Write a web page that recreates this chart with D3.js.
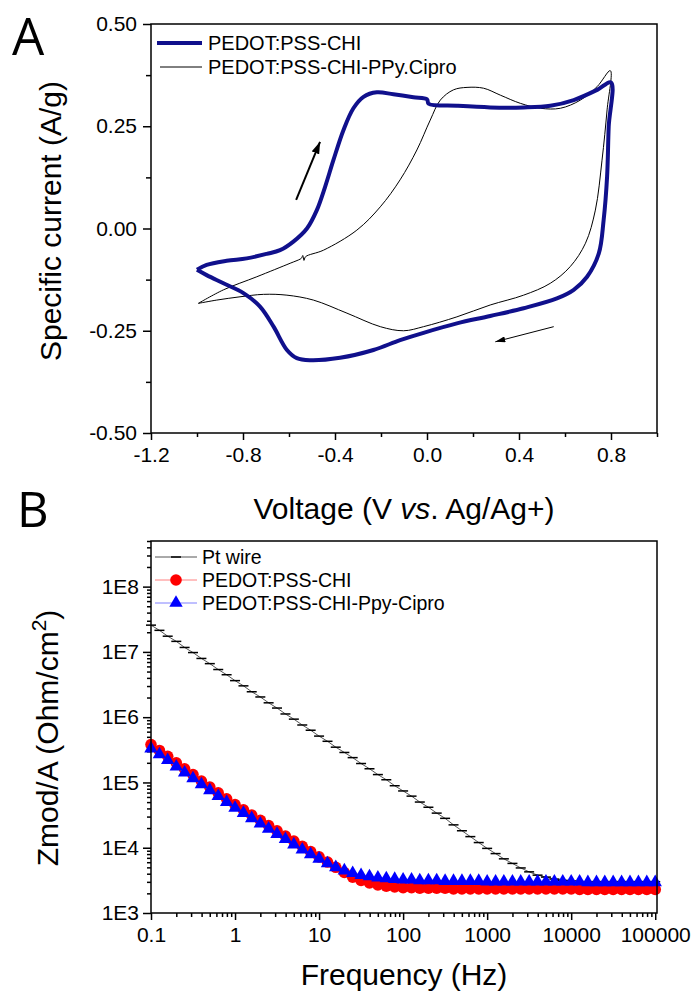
<!DOCTYPE html>
<html>
<head>
<meta charset="utf-8">
<script src="https://cdn.jsdelivr.net/npm/d3@7"></script>
<style>
body { margin: 0; background: #fff; }
text { font-family: "Liberation Sans", Arial, sans-serif; fill: #000; }
</style>
</head>
<body>
<div id="here"></div>
<script>
// DATA
// Panel A: cyclic voltammograms (V vs Ag/Ag+, A/g)
const chiVolt = [-1.000, -0.958, -0.871, -0.784, -0.697, -0.639, -0.581, -0.522, -0.479, -0.443, -0.407, -0.363,
  -0.320, -0.276, -0.218, -0.146, -0.059, 0.000, 0.007, 0.130, 0.275, 0.420, 0.536, 0.638, 0.740, 0.800,
  0.790, 0.783, 0.768, 0.747, 0.696, 0.638, 0.565, 0.420, 0.275, 0.130, -0.015, -0.117, -0.233, -0.378,
  -0.508, -0.566, -0.609, -0.667, -0.726, -0.798, -0.885, -0.958, -1.000];
const chiCurrent = [-0.101, -0.089, -0.079, -0.073, -0.062, -0.053, -0.032, 0.000, 0.045, 0.102, 0.167, 0.241,
  0.294, 0.322, 0.333, 0.328, 0.321, 0.316, 0.305, 0.300, 0.296, 0.296, 0.300, 0.314, 0.339, 0.357,
  0.249, 0.127, 0.021, -0.061, -0.118, -0.150, -0.171, -0.195, -0.214, -0.232, -0.255, -0.273, -0.297, -0.316,
  -0.322, -0.317, -0.297, -0.240, -0.191, -0.158, -0.134, -0.114, -0.101];

const ciproVolt = [-0.994, -0.885, -0.740, -0.595, -0.552, -0.545, -0.540, -0.535, -0.528, -0.450, -0.305,
  -0.203, -0.117, -0.044, 0.014, 0.058, 0.115, 0.174, 0.246, 0.319, 0.406, 0.493, 0.580, 0.667, 0.740, 0.797,
  0.783, 0.761, 0.732, 0.689, 0.623, 0.536, 0.420, 0.275, 0.130, -0.015, -0.102, -0.203, -0.348, -0.494,
  -0.609, -0.711, -0.813, -0.914, -0.994];
const ciproCurrent = [-0.183, -0.150, -0.118, -0.085, -0.075, -0.072, -0.066, -0.078, -0.069, -0.053, -0.004,
  0.053, 0.119, 0.192, 0.265, 0.314, 0.339, 0.345, 0.343, 0.326, 0.306, 0.294, 0.294, 0.314, 0.347, 0.386,
  0.290, 0.167, 0.045, -0.036, -0.093, -0.134, -0.163, -0.187, -0.216, -0.240, -0.250, -0.240, -0.207, -0.175,
  -0.163, -0.161, -0.167, -0.175, -0.183];

// arrows showing scan direction [V, A/g]
const arrowUp = [[-0.569, 0.070], [-0.465, 0.212]];
const arrowDown = [[0.551, -0.240], [0.297, -0.277]];

const voltTicks = [-1.2, -0.8, -0.4, 0.0, 0.4, 0.8];
const voltMinor = [-1.0, -0.6, -0.2, 0.2, 0.6, 1.0];
const currentTicks = [-0.50, -0.25, 0.00, 0.25, 0.50];
const currentMinor = [-0.375, -0.125, 0.125, 0.375];

// Panel B: impedance modulus (Ohm/cm2) vs frequency (Hz)
const freqHz = [0.1, 0.126, 0.158, 0.2, 0.251, 0.316, 0.398, 0.501, 0.631, 0.794,
  1, 1.26, 1.58, 2, 2.51, 3.16, 3.98, 5.01, 6.31, 7.94,
  10, 12.6, 15.8, 20, 25.1, 31.6, 39.8, 50.1, 63.1, 79.4,
  100, 126, 158, 200, 251, 316, 398, 501, 631, 794,
  1000, 1260, 1580, 2000, 2510, 3160, 3980, 5010, 6310, 7940,
  10000, 12600, 15800, 20000, 25100, 31600, 39800, 50100, 63100, 79400,
  100000];
const zPtWire = [2.57e7, 2.14e7, 1.74e7, 1.45e7, 1.17e7, 9.77e6, 7.94e6, 6.61e6, 5.37e6, 4.47e6,
  3.63e6, 3.02e6, 2.45e6, 2.04e6, 1.66e6, 1.38e6, 1.12e6, 9.33e5, 7.59e5, 6.31e5,
  5.13e5, 4.27e5, 3.47e5, 2.88e5, 2.40e5, 1.95e5, 1.62e5, 1.32e5, 1.10e5, 8.91e4,
  7.41e4, 6.17e4, 5.01e4, 4.17e4, 3.39e4, 2.82e4, 2.24e4, 1.82e4, 1.48e4, 1.20e4,
  9.77e3, 8.13e3, 6.76e3, 5.75e3, 4.90e3, 4.27e3, 3.80e3, 3.55e3, 3.31e3, 3.16e3,
  3.09e3, 3.02e3, 3.02e3, 3.02e3, 3.02e3, 3.02e3, 3.02e3, 3.02e3, 3.02e3, 3.02e3,
  3.02e3];
const zPedotChi = [3.80e5, 3.09e5, 2.51e5, 2.00e5, 1.62e5, 1.32e5, 1.05e5, 8.51e4, 6.92e4, 5.62e4,
  4.57e4, 3.80e4, 3.16e4, 2.63e4, 2.19e4, 1.82e4, 1.51e4, 1.26e4, 1.05e4, 8.71e3,
  7.24e3, 6.03e3, 5.01e3, 4.17e3, 3.55e3, 3.16e3, 2.88e3, 2.69e3, 2.57e3, 2.51e3,
  2.45e3, 2.45e3, 2.40e3, 2.40e3, 2.40e3, 2.40e3, 2.34e3, 2.34e3, 2.34e3, 2.34e3,
  2.34e3, 2.34e3, 2.34e3, 2.34e3, 2.34e3, 2.34e3, 2.34e3, 2.34e3, 2.34e3, 2.34e3,
  2.34e3, 2.29e3, 2.29e3, 2.29e3, 2.29e3, 2.29e3, 2.29e3, 2.29e3, 2.29e3, 2.29e3,
  2.29e3];
const zPedotCipro = [3.31e5, 2.69e5, 2.19e5, 1.74e5, 1.41e5, 1.15e5, 9.33e4, 7.59e4, 6.17e4, 5.01e4,
  4.07e4, 3.39e4, 2.82e4, 2.34e4, 1.95e4, 1.62e4, 1.35e4, 1.12e4, 9.33e3, 7.94e3,
  6.76e3, 5.75e3, 5.01e3, 4.47e3, 4.07e3, 3.80e3, 3.63e3, 3.47e3, 3.39e3, 3.31e3,
  3.24e3, 3.24e3, 3.16e3, 3.16e3, 3.16e3, 3.09e3, 3.09e3, 3.09e3, 3.09e3, 3.09e3,
  3.02e3, 3.02e3, 3.02e3, 3.02e3, 3.02e3, 3.02e3, 3.02e3, 3.02e3, 3.02e3, 3.02e3,
  3.02e3, 3.02e3, 2.95e3, 2.95e3, 2.95e3, 2.95e3, 2.95e3, 2.95e3, 2.95e3, 2.95e3,
  2.95e3];

const freqTicks = [0.1, 1, 10, 100, 1000, 10000, 100000];
const zTicks = [1e3, 1e4, 1e5, 1e6, 1e7, 1e8];

// colours
const navy = "#10108c";
const red = "#ff0000";
const blue = "#0000ff";

// Create SVG canvas
const width = 693, height = 994;
const svg = d3.select("#here").append("svg")
  .attr("width", width)
  .attr("height", height)
  .style("display", "block");
svg.append("rect").attr("width", width).attr("height", height).attr("fill", "#fff");

function styleAxis(g, size) {
  g.select(".domain").remove();
  g.attr("font-family", null).attr("font-size", null);
  g.selectAll("line").attr("stroke", "#000").attr("stroke-width", 1.5);
  g.selectAll("text").style("font-size", size + "px");
}

// ---------------- PANEL A ----------------
const xA = d3.scaleLinear().domain([-1.2, 1.0]).range([151, 657]);
const yA = d3.scaleLinear().domain([-0.5, 0.5]).range([433, 24]);

svg.append("g").attr("transform", `translate(0,${yA(-0.5)})`)
  .call(d3.axisBottom(xA).tickValues(voltMinor).tickSize(4).tickFormat(""))
  .call(g => styleAxis(g, 21));
svg.append("g").attr("transform", `translate(0,${yA(-0.5)})`)
  .call(d3.axisBottom(xA).tickValues(voltTicks).tickSize(7).tickPadding(7).tickFormat(d => d.toFixed(1)))
  .call(g => styleAxis(g, 21));
svg.append("g").attr("transform", `translate(${xA(-1.2)},0)`)
  .call(d3.axisLeft(yA).tickValues(currentMinor).tickSize(5).tickFormat(""))
  .call(g => styleAxis(g, 21));
svg.append("g").attr("transform", `translate(${xA(-1.2)},0)`)
  .call(d3.axisLeft(yA).tickValues(currentTicks).tickSize(8).tickPadding(6).tickFormat(d => d.toFixed(2)))
  .call(g => styleAxis(g, 21));

const lineA = d3.line()
  .x(d => xA(d[0]))
  .y(d => yA(d[1]))
  .curve(d3.curveCatmullRom.alpha(0.5));

svg.append("path")
  .datum(ciproVolt.map((v, i) => [v, ciproCurrent[i]]))
  .attr("d", lineA)
  .attr("fill", "none")
  .attr("stroke", "#000")
  .attr("stroke-width", 1);

svg.append("path")
  .datum(chiVolt.map((v, i) => [v, chiCurrent[i]]))
  .attr("d", lineA)
  .attr("fill", "none")
  .attr("stroke", navy)
  .attr("stroke-width", 4)
  .attr("stroke-linejoin", "round");

// arrow heads
const defs = svg.append("defs");
defs.append("marker").attr("id", "headBig")
  .attr("viewBox", "0 0 12 8").attr("refX", 12).attr("refY", 4)
  .attr("markerUnits", "userSpaceOnUse")
  .attr("markerWidth", 12).attr("markerHeight", 8)
  .attr("orient", "auto")
  .append("path").attr("d", "M0,0 L12,4 L0,8 Z").attr("fill", "#000");
defs.append("marker").attr("id", "headSmall")
  .attr("viewBox", "0 0 10 6").attr("refX", 10).attr("refY", 3)
  .attr("markerUnits", "userSpaceOnUse")
  .attr("markerWidth", 10).attr("markerHeight", 6)
  .attr("orient", "auto")
  .append("path").attr("d", "M0,0 L10,3 L0,6 Z").attr("fill", "#000");

svg.append("line")
  .attr("x1", xA(arrowUp[0][0])).attr("y1", yA(arrowUp[0][1]))
  .attr("x2", xA(arrowUp[1][0])).attr("y2", yA(arrowUp[1][1]))
  .attr("stroke", "#000").attr("stroke-width", 2)
  .attr("marker-end", "url(#headBig)");
svg.append("line")
  .attr("x1", xA(arrowDown[0][0])).attr("y1", yA(arrowDown[0][1]))
  .attr("x2", xA(arrowDown[1][0])).attr("y2", yA(arrowDown[1][1]))
  .attr("stroke", "#000").attr("stroke-width", 1)
  .attr("marker-end", "url(#headSmall)");

// frame
svg.append("rect")
  .attr("x", xA(-1.2)).attr("y", yA(0.5))
  .attr("width", xA(1.0) - xA(-1.2)).attr("height", yA(-0.5) - yA(0.5))
  .attr("fill", "none").attr("stroke", "#000").attr("stroke-width", 1.5);

// legend A
const legA = [
  { name: "PEDOT:PSS-CHI", color: navy, w: 4, x1: 157, y: 43 },
  { name: "PEDOT:PSS-CHI-PPy.Cipro", color: "#000", w: 1, x1: 160, y: 67 }
];
legA.forEach(function(d) {
  svg.append("line").attr("x1", d.x1).attr("x2", 202).attr("y1", d.y).attr("y2", d.y)
    .attr("stroke", d.color).attr("stroke-width", d.w);
  svg.append("text").attr("x", 208).attr("y", d.y + 7)
    .style("font-size", "20px").text(d.name);
});

// axis labels A
svg.append("text")
  .attr("x", (xA(-1.2) + xA(1.0)) / 2).attr("y", 519)
  .attr("text-anchor", "middle").style("font-size", "30px")
  .html('Voltage (V <tspan font-style="italic">vs</tspan>. Ag/Ag+)');
svg.append("text")
  .attr("transform", "translate(61,221) rotate(-90)")
  .attr("text-anchor", "middle").style("font-size", "30px")
  .text("Specific current (A/g)");

svg.append("text").attr("x", 12).attr("y", 55)
  .style("font-family", "'Open Sans', sans-serif").style("font-size", "51px").text("A");

// ---------------- PANEL B ----------------
const xB = d3.scaleLog().domain([0.1, 1.05e5]).range([151, 657]);
const yB = d3.scaleLog().domain([1e3, 5e8]).range([913, 541]);

const freqMinor = xB.ticks().filter(d => freqTicks.indexOf(d) < 0 && d < 1.05e5);
const zMinor = yB.ticks().filter(d => zTicks.indexOf(d) < 0);

svg.append("g").attr("transform", `translate(0,${yB(1e3)})`)
  .call(d3.axisBottom(xB).tickValues(freqMinor).tickSize(4).tickFormat(""))
  .call(g => styleAxis(g, 21));
svg.append("g").attr("transform", `translate(0,${yB(1e3)})`)
  .call(d3.axisBottom(xB).tickValues(freqTicks).tickSize(7).tickPadding(7)
    .tickFormat(d => d < 1 ? "0.1" : String(d)))
  .call(g => styleAxis(g, 21));
svg.append("g").attr("transform", `translate(${xB(0.1)},0)`)
  .call(d3.axisLeft(yB).tickValues(zMinor).tickSize(4).tickFormat(""))
  .call(g => styleAxis(g, 21));
svg.append("g").attr("transform", `translate(${xB(0.1)},0)`)
  .call(d3.axisLeft(yB).tickValues(zTicks).tickSize(8).tickPadding(4)
    .tickFormat(d => "1E" + Math.round(Math.log10(d))))
  .call(g => styleAxis(g, 21));

const lineB = d3.line().x(d => xB(d[0])).y(d => yB(d[1]));

const series = [
  { name: "Pt wire", z: zPtWire, line: "#555", marker: "dash", color: "#000" },
  { name: "PEDOT:PSS-CHI", z: zPedotChi, line: "#ff8080", marker: "circle", color: red },
  { name: "PEDOT:PSS-CHI-Ppy-Cipro", z: zPedotCipro, line: "#8080ff", marker: "triangle", color: blue }
];

const triangle = d3.symbol().type(d3.symbolTriangle).size(78);

function drawMarkers(g, pts, s) {
  if (s.marker === "dash") {
    g.selectAll("line.mk").data(pts).enter().append("line")
      .attr("x1", d => d[0] - 5).attr("x2", d => d[0] + 5)
      .attr("y1", d => d[1]).attr("y2", d => d[1])
      .attr("stroke", s.color).attr("stroke-width", 1.5);
  } else if (s.marker === "circle") {
    g.selectAll("circle").data(pts).enter().append("circle")
      .attr("cx", d => d[0]).attr("cy", d => d[1]).attr("r", 5.8)
      .attr("fill", s.color);
  } else {
    g.selectAll("path.mk").data(pts).enter().append("path")
      .attr("d", triangle)
      .attr("transform", d => `translate(${d[0]},${d[1]})`)
      .attr("fill", s.color);
  }
}

series.forEach(function(s) {
  const data = freqHz.map((f, i) => [f, s.z[i]]);
  svg.append("path").datum(data).attr("d", lineB)
    .attr("fill", "none").attr("stroke", s.line).attr("stroke-width", 1);
  const g = svg.append("g");
  drawMarkers(g, data.map(d => [xB(d[0]), yB(d[1])]), s);
});

// frame
svg.append("rect")
  .attr("x", xB(0.1)).attr("y", yB(5e8))
  .attr("width", xB(1.05e5) - xB(0.1)).attr("height", yB(1e3) - yB(5e8))
  .attr("fill", "none").attr("stroke", "#000").attr("stroke-width", 1.5);

// legend B
series.forEach(function(s, i) {
  const y = 557 + i * 23;
  svg.append("line").attr("x1", 155).attr("x2", 197).attr("y1", y).attr("y2", y)
    .attr("stroke", s.line).attr("stroke-width", 1);
  drawMarkers(svg.append("g"), [[176, y]], s);
  svg.append("text").attr("x", 202).attr("y", y + 7)
    .style("font-size", "19.5px").text(s.name);
});

// axis labels B
svg.append("text")
  .attr("x", (xB(0.1) + xB(1.05e5)) / 2).attr("y", 985)
  .attr("text-anchor", "middle").style("font-size", "30px")
  .text("Frequency (Hz)");
svg.append("text")
  .attr("transform", "translate(58,738) rotate(-90)")
  .attr("text-anchor", "middle").style("font-size", "30px")
  .html('Zmod/A (Ohm/cm<tspan dy="-12" font-size="21px">2</tspan><tspan dy="12">)</tspan>');

svg.append("text").attr("x", 17).attr("y", 527)
  .style("font-family", "'Open Sans', sans-serif").style("font-size", "49px").text("B");
</script>
</body>
</html>
